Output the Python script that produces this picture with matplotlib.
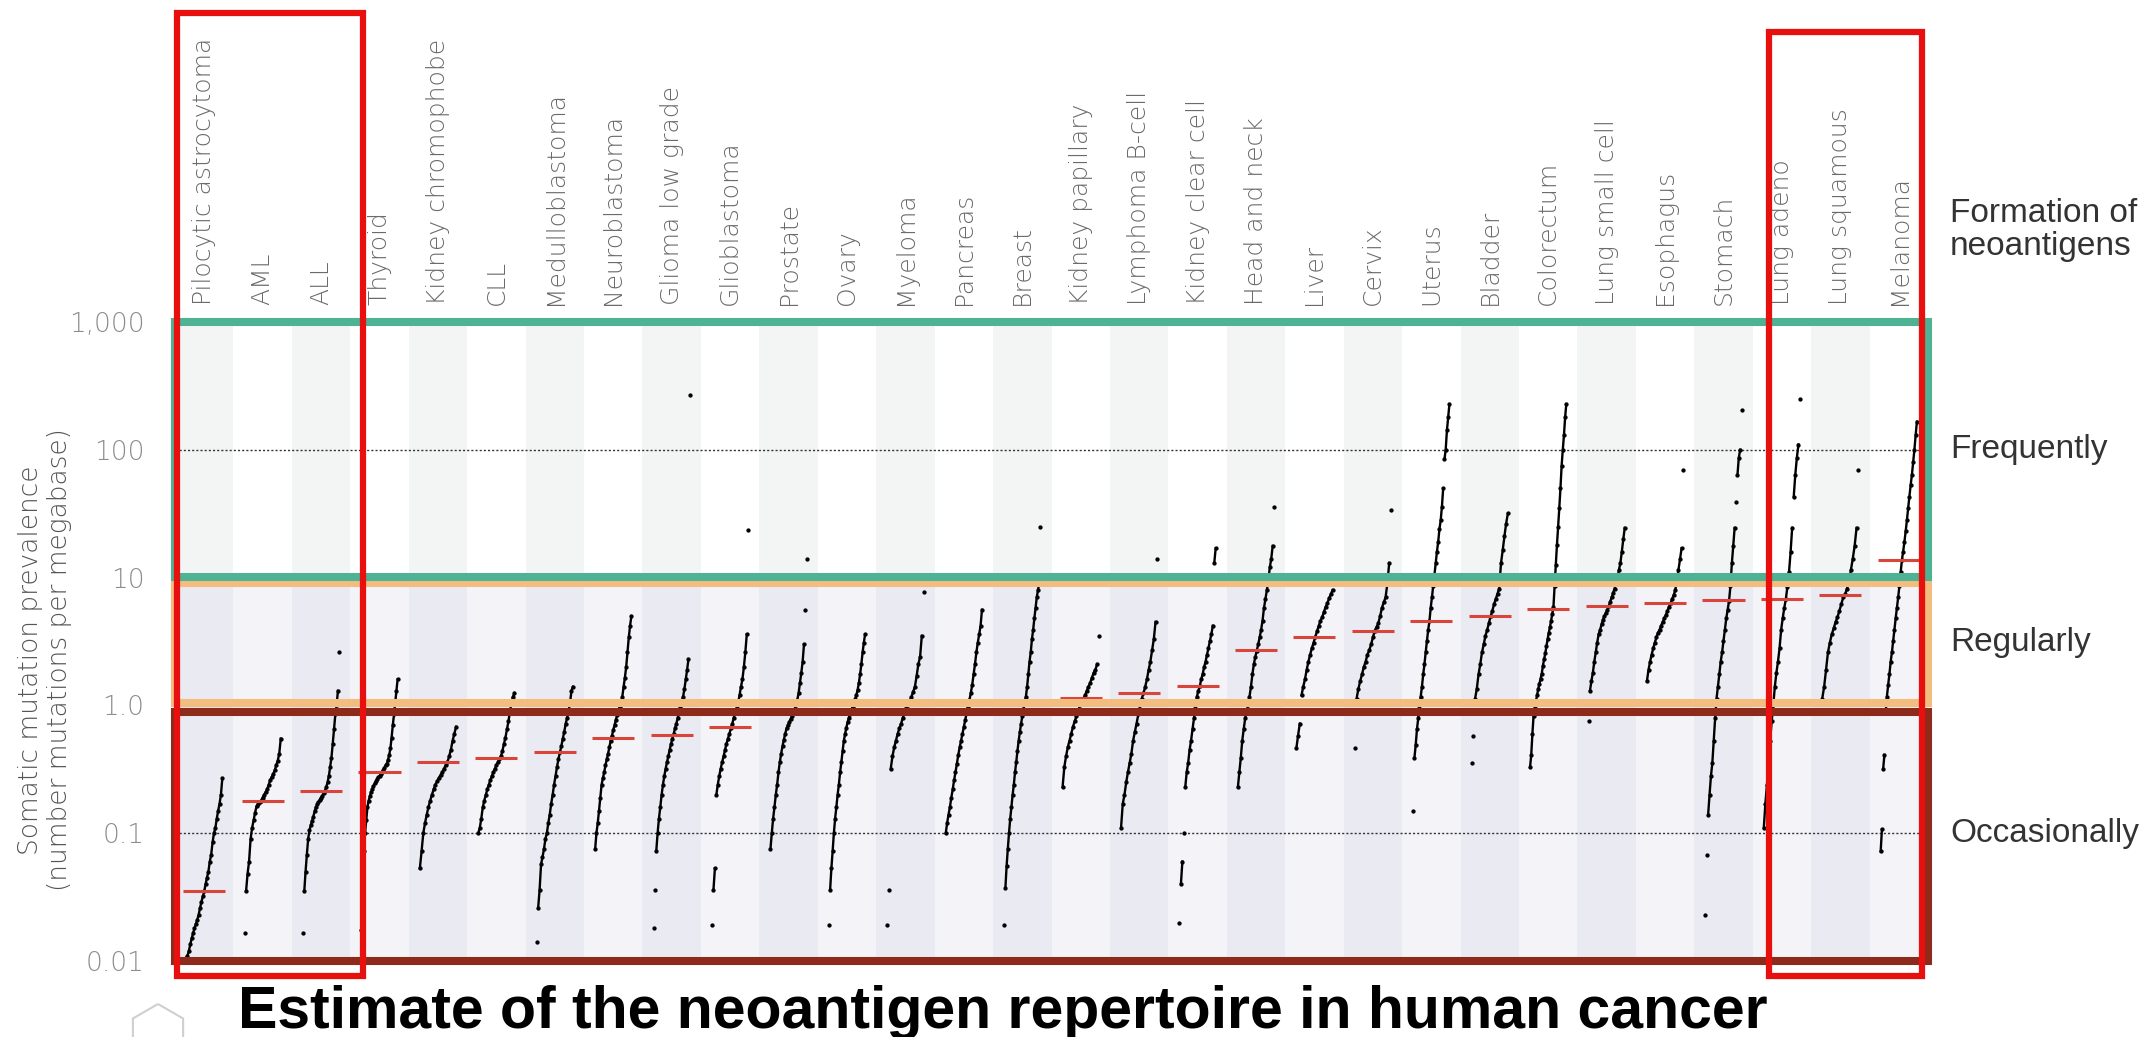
import numpy as np
import matplotlib
matplotlib.use("Agg")
import matplotlib.pyplot as plt
from matplotlib.patches import Rectangle, RegularPolygon
from matplotlib.transforms import blended_transform_factory

# ── Tumour types, ordered by median mutation prevalence ──────────────────────
cancer_types = [
    "Pilocytic astrocytoma", "AML", "ALL", "Thyroid", "Kidney chromophobe",
    "CLL", "Medulloblastoma", "Neuroblastoma", "Glioma low grade",
    "Glioblastoma", "Prostate", "Ovary", "Myeloma", "Pancreas", "Breast",
    "Kidney papillary", "Lymphoma B-cell", "Kidney clear cell",
    "Head and neck", "Liver", "Cervix", "Uterus", "Bladder", "Colorectum",
    "Lung small cell", "Esophagus", "Stomach", "Lung adeno",
    "Lung squamous", "Melanoma",
]

# ── Per-sample mutations per megabase (sorted, one dot each) ─────────────────
pilocytic = [0.0105, 0.011, 0.012, 0.0135, 0.015, 0.0165, 0.018, 0.0195, 0.021,
             0.023, 0.026, 0.029, 0.032, 0.035, 0.04, 0.045, 0.05, 0.06, 0.068,
             0.085, 0.1, 0.11, 0.13, 0.15, 0.17, 0.2, 0.27]
aml = [0.0167, 0.035, 0.048, 0.06, 0.09, 0.11, 0.126, 0.145, 0.163, 0.17, 0.176,
       0.18, 0.19, 0.2, 0.21, 0.22, 0.24, 0.26, 0.275, 0.29, 0.31, 0.34, 0.37,
       0.42, 0.55]
all_ = [0.0167, 0.035, 0.05, 0.068, 0.09, 0.105, 0.115, 0.125, 0.135, 0.148, 0.16,
        0.168, 0.175, 0.183, 0.19, 0.197, 0.205, 0.215, 0.23, 0.25, 0.28, 0.33,
        0.39, 0.5, 0.65, 0.85, 1.0, 1.3, 2.6]
thyroid = [0.0175, 0.053, 0.072, 0.1, 0.126, 0.16, 0.18, 0.195, 0.21, 0.22, 0.232,
           0.245, 0.255, 0.265, 0.273, 0.28, 0.29, 0.3, 0.31, 0.325, 0.34, 0.35,
           0.375, 0.41, 0.46, 0.56, 0.7, 0.85, 1.05, 1.3, 1.6]
kidney_chromophobe = [0.053, 0.072, 0.1, 0.12, 0.14, 0.16, 0.18, 0.2, 0.22, 0.24,
                      0.255, 0.27, 0.285, 0.3, 0.32, 0.34, 0.36, 0.4, 0.45, 0.53,
                      0.6, 0.68]
cll = [0.1, 0.11, 0.13, 0.16, 0.18, 0.2, 0.22, 0.24, 0.26, 0.28, 0.3, 0.32, 0.34,
       0.36, 0.38, 0.4, 0.44, 0.5, 0.56, 0.65, 0.75, 0.9, 1.05, 1.17, 1.25]
medulloblastoma = [0.014, 0.026, 0.036, 0.057, 0.065, 0.075, 0.09, 0.1, 0.12, 0.14,
                   0.17, 0.2, 0.24, 0.28, 0.33, 0.38, 0.43, 0.48, 0.55, 0.62, 0.72,
                   0.8, 0.9, 1.05, 1.3, 1.4]
neuroblastoma = [0.075, 0.1, 0.12, 0.15, 0.19, 0.24, 0.27, 0.3, 0.34, 0.38, 0.42,
                 0.47, 0.53, 0.58, 0.64, 0.7, 0.77, 0.84, 0.9, 0.97, 1.05, 1.17,
                 1.4, 1.65, 2.0, 2.6, 3.4, 4.2, 5.0]
glioma_low_grade = [0.018, 0.036, 0.072, 0.1, 0.13, 0.16, 0.2, 0.24, 0.28, 0.32,
                    0.36, 0.4, 0.45, 0.5, 0.55, 0.6, 0.66, 0.72, 0.8, 0.88, 0.97,
                    1.07, 1.17, 1.35, 1.6, 1.9, 2.3, 268]
glioblastoma = [0.019, 0.036, 0.053, 0.2, 0.24, 0.28, 0.32, 0.36, 0.4, 0.45, 0.5,
                0.55, 0.6, 0.66, 0.72, 0.8, 0.88, 0.95, 1.05, 1.2, 1.4, 1.6, 2.0,
                2.6, 3.6, 23.5]
prostate = [0.075, 0.1, 0.13, 0.16, 0.2, 0.24, 0.3, 0.36, 0.42, 0.48, 0.54, 0.6,
            0.66, 0.7, 0.74, 0.78, 0.82, 0.87, 0.93, 1.0, 1.1, 1.25, 1.5, 1.8, 2.2,
            3.0, 5.6, 14]
ovary = [0.019, 0.036, 0.053, 0.072, 0.1, 0.13, 0.16, 0.2, 0.24, 0.3, 0.36, 0.44,
         0.53, 0.6, 0.67, 0.74, 0.8, 0.86, 0.92, 0.98, 1.05, 1.12, 1.2, 1.32, 1.5,
         1.75, 2.1, 2.6, 3.1, 3.6]
myeloma = [0.019, 0.036, 0.32, 0.4, 0.47, 0.53, 0.6, 0.66, 0.72, 0.8, 0.88, 0.95,
           1.0, 1.08, 1.17, 1.28, 1.4, 1.7, 2.1, 2.4, 3.5, 7.7]
pancreas = [0.1, 0.12, 0.14, 0.16, 0.19, 0.22, 0.26, 0.3, 0.35, 0.41, 0.47, 0.53,
            0.6, 0.68, 0.77, 0.87, 0.98, 1.1, 1.25, 1.45, 1.75, 2.1, 2.6, 3.1, 3.6,
            4.2, 5.6]
breast = [0.019, 0.037, 0.055, 0.075, 0.1, 0.13, 0.16, 0.2, 0.24, 0.3, 0.36, 0.44,
          0.53, 0.62, 0.72, 0.82, 0.93, 1.05, 1.17, 1.4, 1.75, 2.2, 2.6, 3.3, 3.9,
          4.8, 5.8, 7.0, 8.0, 9.0, 25]
kidney_papillary = [0.23, 0.33, 0.4, 0.47, 0.53, 0.6, 0.68, 0.75, 0.82, 0.9, 1.0,
                    1.07, 1.13, 1.2, 1.3, 1.4, 1.5, 1.65, 1.8, 1.9, 2.1, 3.5]
lymphoma_b = [0.11, 0.17, 0.2, 0.25, 0.3, 0.355, 0.42, 0.53, 0.62, 0.72, 0.85, 1.0,
              1.13, 1.24, 1.4, 1.6, 1.9, 2.2, 2.7, 3.3, 4.5, 14]
kidney_clear_cell = [0.02, 0.04, 0.06, 0.1, 0.23, 0.3, 0.355, 0.45, 0.53, 0.65,
                     0.79, 0.95, 1.17, 1.3, 1.41, 1.6, 1.75, 2.0, 2.2, 2.5, 2.8,
                     3.2, 3.6, 4.2, 13, 17]
head_neck = [0.23, 0.3, 0.39, 0.53, 0.65, 0.79, 0.9, 1.0, 1.17, 1.4, 1.75, 2.1,
             2.4, 2.67, 3.0, 3.4, 3.9, 4.6, 5.8, 6.8, 8.0, 9.5, 12, 14, 17.7, 36]
liver = [0.46, 0.58, 0.72, 1.2, 1.4, 1.6, 1.9, 2.2, 2.5, 2.8, 3.1, 3.45, 3.8, 4.2,
         4.6, 4.9, 5.4, 5.9, 6.3, 6.9, 7.4, 8.0]
cervix = [0.46, 1.13, 1.35, 1.55, 1.75, 2.0, 2.2, 2.5, 2.7, 3.0, 3.4, 3.83, 4.1,
          4.4, 5.0, 5.8, 6.4, 7.0, 9.0, 13, 33.5]
uterus = [0.15, 0.39, 0.49, 0.65, 0.79, 0.95, 1.17, 1.4, 1.75, 2.1, 2.6, 3.2, 3.9,
          4.56, 5.8, 7.0, 8.6, 10.5, 12.9, 16, 19, 24, 28, 36, 50, 84, 100, 142,
          180, 228]
bladder = [0.355, 0.58, 1.13, 1.35, 1.75, 2.1, 2.6, 3.0, 3.5, 3.9, 4.4, 5.0, 5.5,
           6.2, 6.8, 7.5, 8.2, 12.9, 16.3, 21, 26.5, 31.8]
colorectum = [0.33, 0.41, 0.6, 0.83, 0.95, 1.08, 1.2, 1.35, 1.48, 1.62, 1.77, 2.05,
              2.3, 2.55, 2.9, 3.3, 3.7, 4.1, 4.6, 5.2, 5.9, 8.6, 12.5, 18, 25, 35,
              50, 75, 100, 130, 180, 228]
lung_small_cell = [0.76, 1.3, 1.55, 1.8, 2.2, 2.6, 3.1, 3.6, 3.9, 4.3, 4.7, 5.0,
                   5.3, 5.6, 6.0, 6.5, 7.0, 7.6, 8.2, 9.0, 10, 11.5, 13, 16, 19.9,
                   24.5]
esophagus = [1.55, 1.9, 2.2, 2.5, 2.8, 3.1, 3.4, 3.7, 3.9, 4.2, 4.5, 4.8, 5.1, 5.5,
             5.9, 6.3, 6.8, 7.3, 8.0, 9.5, 11.5, 13.9, 17, 69]
stomach = [0.023, 0.068, 0.14, 0.2, 0.28, 0.355, 0.53, 0.79, 1.13, 1.4, 1.75, 2.2,
           2.6, 3.2, 3.9, 4.8, 5.6, 6.6, 8.6, 12.9, 17.7, 24.5, 39, 63, 87, 100,
           204]
lung_adeno = [0.11, 0.17, 0.24, 0.35, 0.53, 0.75, 1.0, 1.4, 1.8, 2.2, 2.8, 3.9, 4.8,
              5.8, 6.8, 8.5, 11, 15.8, 24.5, 43, 64, 87, 110, 250]
lung_squamous = [1.13, 1.4, 1.9, 2.6, 3.1, 3.6, 4.0, 4.5, 4.9, 5.5, 6.2, 7.0, 7.4,
                 8.2, 9.3, 11.4, 14, 17.7, 24.5, 69]
melanoma = [0.072, 0.107, 0.32, 0.41, 0.87, 1.17, 1.45, 1.75, 2.2, 2.6, 3.2, 3.9,
            4.8, 5.8, 7.0, 8.6, 11, 13.7, 16, 19, 23, 28, 35, 43, 53, 63.6, 80, 100,
            130, 166]

samples = [pilocytic, aml, all_, thyroid, kidney_chromophobe, cll, medulloblastoma,
           neuroblastoma, glioma_low_grade, glioblastoma, prostate, ovary, myeloma,
           pancreas, breast, kidney_papillary, lymphoma_b, kidney_clear_cell,
           head_neck, liver, cervix, uterus, bladder, colorectum, lung_small_cell,
           esophagus, stomach, lung_adeno, lung_squamous, melanoma]

# median per tumour type (red bars)
medians = [0.035, 0.18, 0.215, 0.30, 0.36, 0.39, 0.43, 0.56, 0.586, 0.68,
           1.0, 1.0, 1.0, 1.0, 1.0, 1.15, 1.24, 1.41, 2.7, 3.45,
           3.83, 4.56, 5.02, 5.66, 6.04, 6.28, 6.64, 6.8, 7.37, 13.7]

tick_values = [0.01, 0.1, 1, 10, 100, 1000]
tick_labels = ["0.01", "0.1", "1.0", "10", "100", "1,000"]

# ── Style ────────────────────────────────────────────────────────────────────
GREEN = "#4db394"
ORANGE = "#f2bd7e"
DARK_RED = "#8e2a1c"
BOX_RED = "#e8100e"
MEDIAN_RED = "#d8453a"
LIGHT_FONT = dict(family="DejaVu Sans", fontweight=200)

W, H = 2150, 1037
fig = plt.figure(figsize=(W / 100, H / 100), dpi=100)
ax = fig.add_axes([175 / W, 76 / H, 1753 / W, 639 / H])
ax.set_yscale("log")
n = len(cancer_types)
ax.set_xlim(0, n)
ax.set_ylim(0.01, 1000)
for s in ax.spines.values():
    s.set_visible(False)
ax.set_xticks([])
ax.set_yticks(tick_values)
ax.set_yticklabels(tick_labels, **LIGHT_FONT)
ax.yaxis.set_minor_locator(plt.NullLocator())
ax.tick_params(axis="y", length=0, pad=22, labelsize=19, labelcolor="#8c8c8c")

# alternating column shading (upper band white, lower bands lavender)
for i in range(n):
    top = "#f3f4f4" if i % 2 == 0 else "#ffffff"
    low = "#eaeaf2" if i % 2 == 0 else "#f3f3f8"
    ax.axvspan(i, i + 1, ymin=0.6, ymax=1, color=top, lw=0, zorder=0)
    ax.axvspan(i, i + 1, ymin=0, ymax=0.6, color=low, lw=0, zorder=0)

for yv in (100, 0.1):
    ax.axhline(yv, color="#333333", lw=1, ls=(0, (1.5, 1.5)), zorder=1)

# sorted samples spread across each column; dense runs joined by a line
for i, vals in enumerate(samples):
    v = np.sort(np.asarray(vals, dtype=float))
    k = len(v)
    xs = i + 0.5 + (np.arange(k) / (k - 1) - 0.5) * 0.62
    gaps = np.diff(np.log10(v))
    start = 0
    for j, g in enumerate(gaps):
        if g > 0.2:
            if j > start:
                ax.plot(xs[start:j + 1], v[start:j + 1], color="k", lw=1.7, zorder=2)
            start = j + 1
    if k - 1 > start:
        ax.plot(xs[start:], v[start:], color="k", lw=1.7, zorder=2)
    ax.plot(xs, v, "o", ms=3.1, mew=0, color="k", zorder=3)

centers = np.arange(n) + 0.5
ax.hlines(medians, centers - 0.36, centers + 0.36, color=MEDIAN_RED, lw=2.2, zorder=4)

# prevalence bands
ax.add_patch(Rectangle((0, 0.01), n, 0.89 - 0.01, fill=False, ec=DARK_RED,
                       lw=5.8, zorder=5, clip_on=False))
ax.add_patch(Rectangle((0, 1.04), n, 9.0 - 1.04, fill=False, ec=ORANGE,
                       lw=5.8, zorder=5, clip_on=False))
ax.add_patch(Rectangle((0, 10.2), n, 1000 - 10.2, fill=False, ec=GREEN,
                       lw=5.8, zorder=6, clip_on=False))

# highlight boxes around the lowest and highest three tumour types
fig_y = blended_transform_factory(ax.transData, fig.transFigure)
ax.add_patch(Rectangle((0.03, 1 - 976 / H), 3.19, (976 - 13) / H, fill=False,
                       ec=BOX_RED, lw=4.5, transform=fig_y, clip_on=False, zorder=8))
ax.add_patch(Rectangle((27.28, 1 - 976 / H), 2.62, (976 - 32) / H, fill=False,
                       ec=BOX_RED, lw=4.5, transform=fig_y, clip_on=False, zorder=8))

for i, name in enumerate(cancer_types):
    ax.annotate(name, xy=(i + 0.5, 1), xycoords=("data", "axes fraction"),
                xytext=(0, 12), textcoords="offset points", rotation=90,
                ha="center", va="bottom", fontsize=18, color="#6a6a6a", **LIGHT_FONT)

right_tr = blended_transform_factory(ax.transAxes, ax.transData)
for label, yv in (("Frequently", 100), ("Regularly", 3.1), ("Occasionally", 0.1)):
    ax.text(1.0126, yv, label, transform=right_tr, ha="left", va="center",
            fontsize=24, color="#333333", family="Liberation Sans")
fig.text(1950 / W, 1 - 230 / H, "Formation of\nneoantigens", ha="left", va="center",
         fontsize=24, color="#333333", family="Liberation Sans", linespacing=1.05)

fig.text(45 / W, 1 - 660 / H, "Somatic mutation prevalence\n(number mutations per megabase)",
         rotation=90, ha="center", va="center", fontsize=19, color="#555555",
         linespacing=1.2, **LIGHT_FONT)

fig.text(238 / W, 1 - 1028 / H, "Estimate of the neoantigen repertoire in human cancer",
         ha="left", va="baseline", fontsize=42.5, fontweight="bold",
         family="Liberation Sans", color="black")

# faint slide icon in the lower-left corner (pixel coordinates)
fig.patches.append(RegularPolygon((158, 4), 6, radius=29, orientation=0,
                                  fill=False, ec="#cfcfcf", lw=1.5,
                                  transform=None, figure=fig))

fig.savefig("out.png", dpi=100)
